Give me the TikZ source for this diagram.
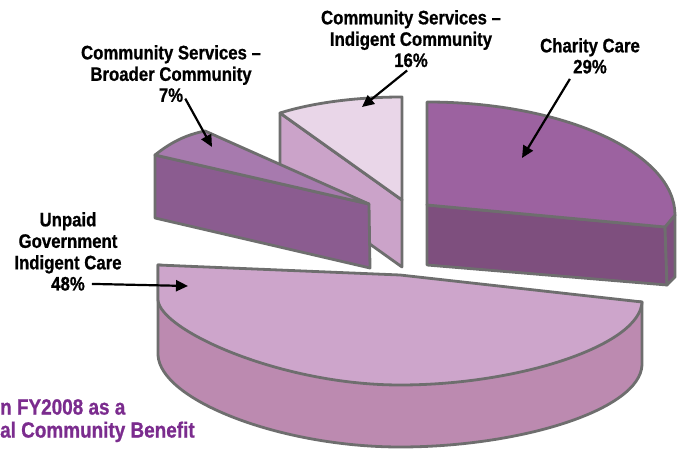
\documentclass[tikz,border=0pt]{standalone}
\usepackage{fontspec}
\setmainfont{Liberation Sans}[FakeStretch=0.86, BoldFeatures={FakeBold=0.8}]
\usetikzlibrary{positioning, arrows.meta}

\definecolor{edgegray}{HTML}{6E6E6E}
\definecolor{ccTop}{HTML}{9C62A0}
\definecolor{ccFront}{HTML}{7E4F7E}
\definecolor{icTop}{HTML}{E9D6E8}
\definecolor{icSide}{HTML}{CBA3C9}
\definecolor{bcTop}{HTML}{A77AAE}
\definecolor{bcFront}{HTML}{8B5C90}
\definecolor{ucTop}{HTML}{CDA5CB}
\definecolor{ucSide}{HTML}{BC8AB0}
\definecolor{notePurple}{HTML}{7B2C8E}

\begin{document}
\begin{tikzpicture}[x=1pt, y=-1pt,
        slice/.style={draw=edgegray, line width=2.8pt, line join=round},
        lbl/.style={inner sep=0pt, align=center, font=\fontsize{19.5}{21.5}\selectfont\bfseries},
        pointer/.style={line width=2.2pt, -{Triangle[length=12pt, width=11pt]}}]

        \useasboundingbox (0,0) rectangle (681,449);

        % Indigent community (back slice)
        \draw[slice, fill=icSide] (280,113) -- (402,200) -- (402,267) -- (280,180) -- cycle;
        \draw[slice, fill=icTop] (280,113) -- (402,200) -- (402,97) .. controls (360,97) and (315,102) .. (280,113) -- cycle;

        % Broader community
        \draw[slice, fill=bcFront] (155,155) -- (369,204) -- (370,268) -- (155,218) -- cycle;
        \draw[slice, fill=bcTop] (155,155) .. controls (170,143) and (185,135) .. (205,131) -- (369,204) -- cycle;

        % Charity care
        \draw[slice, fill=ccFront] (427,205) -- (665,227) -- (667,285) -- (427,265) -- cycle;
        \draw[slice, fill=ccFront] (665,227) -- (675,215) -- (675,277) -- (667,285) -- cycle;
        \draw[slice, fill=ccTop] (427,205) -- (427,102) .. controls (564,102) and (675,153) .. (675,215) -- (665,227) -- cycle;

        % Unpaid government (front slice)
        \draw[slice, fill=ucSide] (158,265) -- (158,355) .. controls (160,400) and (280,447) .. (400,447)
            .. controls (520,447) and (640,410) .. (642,365) -- (642,302) -- cycle;
        \draw[slice, fill=ucTop] (158,265) -- (400,275) -- (642,302) .. controls (640,345) and (520,385) .. (400,385)
            .. controls (280,385) and (160,330) .. (158,300) -- cycle;

        % Labels
        \node[lbl, anchor=north] (bcName) at (171,45) {Community Services --\\Broader Community};
        \node[lbl, below=3pt of bcName] (bcPct) {7\%};
        \node[lbl, anchor=north] (icName) at (411,10) {Community Services --\\Indigent Community};
        \node[lbl, below=3pt of icName] (icPct) {16\%};
        \node[lbl, anchor=north] (ccName) at (590,38) {Charity Care};
        \node[lbl, below=3pt of ccName] (ccPct) {29\%};
        \node[lbl, anchor=north] (ucName) at (68,212) {Unpaid\\Government\\Indigent Care};
        \node[lbl, below=3pt of ucName] (ucPct) {48\%};

        % Pointers
        \coordinate (bcTip) at (212,147);
        \coordinate (icTip) at (362,107);
        \coordinate (ccTip) at (522,158);
        \coordinate (ucTip) at (188,286);
        \draw[pointer, shorten <=4pt] (bcPct.east) -- (bcTip);
        \draw[pointer, shorten <=5pt] (icPct.south) -- (icTip);
        \draw[pointer, shorten <=6pt] (ccPct.south west) -- (ccTip);
        \draw[pointer, shorten <=7pt] (ucPct.east) -- (ucTip);

        % Note at bottom left
        \node[anchor=north west, inner sep=0pt, align=left, text=notePurple,
            font=\fontsize{22}{23}\selectfont\bfseries] (note) at (0,399) {n FY2008 as a\\al Community Benefit};

\end{tikzpicture}
\end{document}
